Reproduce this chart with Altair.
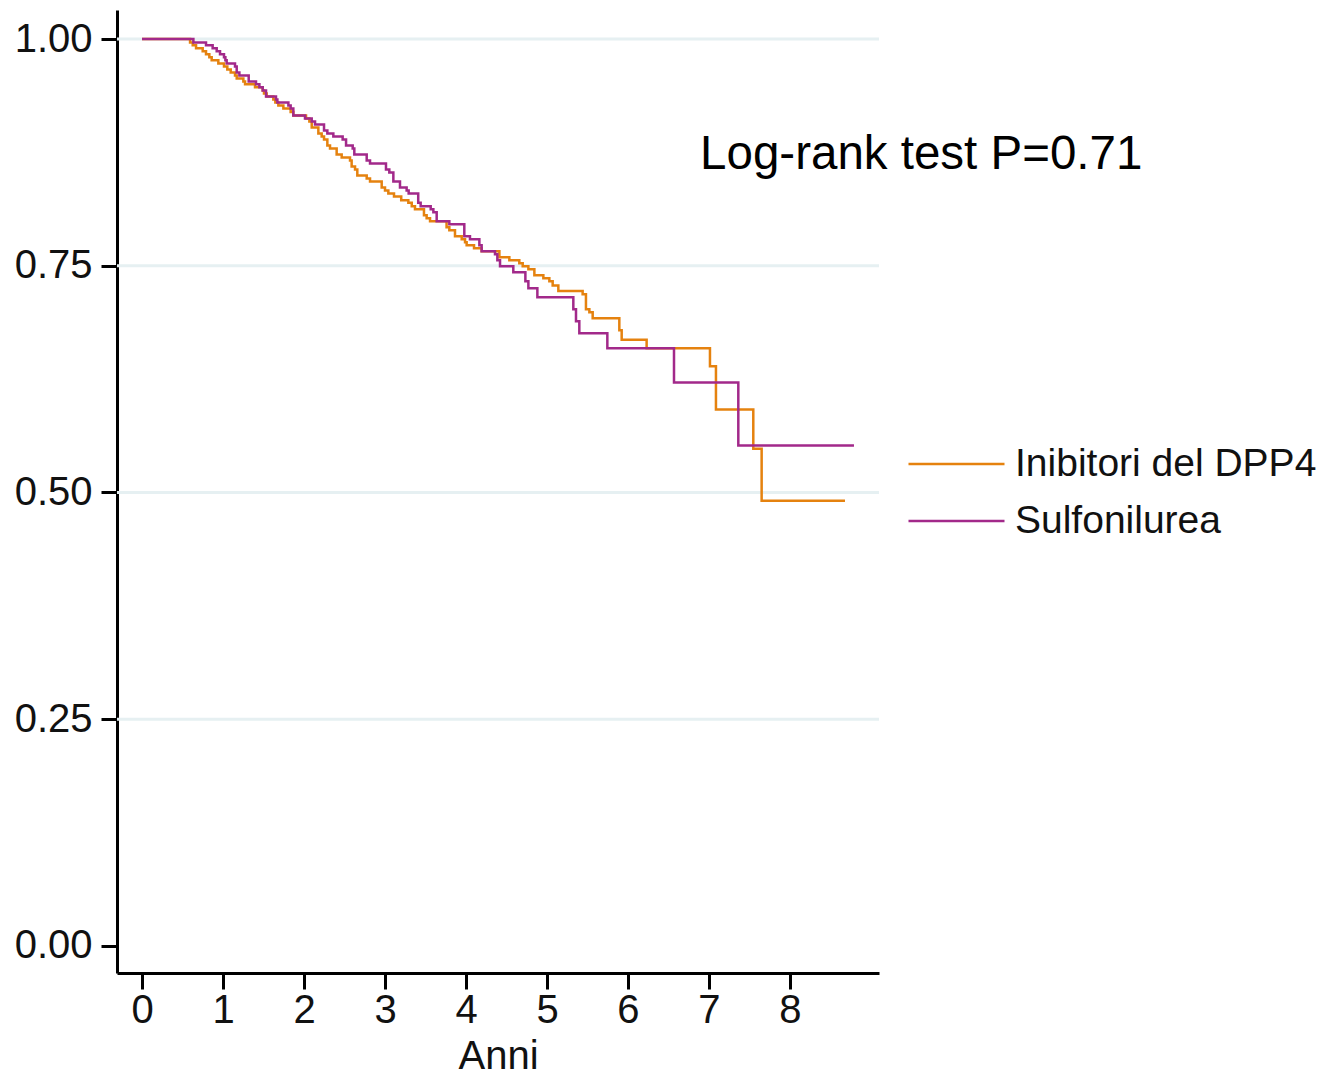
import altair as alt
import pandas as pd

# Kaplan-Meier step curves
dpp4_t = [0, 0.593, 0.626, 0.667, 0.749, 0.790, 0.831, 0.860, 0.942, 1.012,
          1.053, 1.095, 1.148, 1.169, 1.251, 1.272, 1.395, 1.490, 1.506, 1.539,
          1.621, 1.646, 1.683, 1.745, 1.835, 1.868, 2.025, 2.066, 2.095, 2.177,
          2.218, 2.247, 2.288, 2.321, 2.403, 2.465, 2.568, 2.588, 2.630, 2.658,
          2.774, 2.815, 2.959, 3.0, 3.041, 3.111, 3.20, 3.288, 3.33, 3.37,
          3.481, 3.514, 3.556, 3.76, 3.794, 3.864, 3.947, 3.988, 4.008, 4.099,
          4.193, 4.412, 4.535, 4.658, 4.70, 4.770, 4.844, 4.955, 5.029, 5.070,
          5.14, 5.44, 5.481, 5.523, 5.564, 5.893, 5.922, 6.23, 7.012, 7.086,
          7.547, 7.65, 8.679]
dpp4_s = [1.0, 0.9963, 0.9930, 0.9897, 0.9864, 0.9831, 0.9798, 0.9765, 0.9731, 0.9698,
          0.9665, 0.9632, 0.9599, 0.9566, 0.9533, 0.9500, 0.9467, 0.9433, 0.9400, 0.9367,
          0.9334, 0.9301, 0.9268, 0.9235, 0.9194, 0.9157, 0.9124, 0.9091, 0.9025, 0.8959,
          0.8926, 0.8893, 0.8826, 0.8793, 0.8727, 0.8694, 0.8661, 0.8595, 0.8561, 0.8495,
          0.8462, 0.8429, 0.8363, 0.8330, 0.8297, 0.8263, 0.8223, 0.8194, 0.8157, 0.8124,
          0.8057, 0.8024, 0.7991, 0.7925, 0.7892, 0.7826, 0.7792, 0.7759, 0.7726, 0.7693,
          0.7660, 0.7594, 0.7561, 0.7528, 0.7494, 0.7461, 0.7395, 0.7362, 0.7329, 0.7281,
          0.7222, 0.7185, 0.7020, 0.6987, 0.6921, 0.6788, 0.6685, 0.6590, 0.6391, 0.5916,
          0.5482, 0.4908, 0.4908]

sulf_t = [0, 0.634, 0.790, 0.872, 0.922, 0.963, 1.012, 1.029, 1.045, 1.148,
          1.169, 1.202, 1.317, 1.407, 1.449, 1.490, 1.531, 1.654, 1.671, 1.807,
          1.835, 1.868, 2.012, 2.095, 2.136, 2.247, 2.288, 2.362, 2.477, 2.519,
          2.601, 2.621, 2.774, 2.815, 3.012, 3.053, 3.103, 3.185, 3.267, 3.292,
          3.41, 3.44, 3.564, 3.597, 3.638, 3.794, 3.979, 4.049, 4.165, 4.193,
          4.358, 4.387, 4.420, 4.584, 4.733, 4.770, 4.881, 5.325, 5.358, 5.399,
          5.745, 6.568, 7.362, 8.79]
sulf_s = [1.0, 0.9963, 0.9930, 0.9897, 0.9864, 0.9831, 0.9798, 0.9765, 0.9731, 0.9698,
          0.9632, 0.9599, 0.9533, 0.9500, 0.9467, 0.9433, 0.9367, 0.9334, 0.9301, 0.9268,
          0.9235, 0.9157, 0.9124, 0.9091, 0.9058, 0.8992, 0.8959, 0.8926, 0.8893, 0.8826,
          0.8793, 0.8727, 0.8661, 0.8628, 0.8561, 0.8528, 0.8429, 0.8363, 0.8330, 0.8297,
          0.8194, 0.8157, 0.8124, 0.8090, 0.7991, 0.7958, 0.7826, 0.7792, 0.7726, 0.7660,
          0.7627, 0.7561, 0.7494, 0.7428, 0.7329, 0.7252, 0.7152, 0.7020, 0.6888, 0.6755,
          0.6590, 0.6214, 0.5519, 0.5519]

groups = ["Inibitori del DPP4", "Sulfonilurea"]
colors = ["#e5820f", "#a2298a"]
x_ticks = [0, 1, 2, 3, 4, 5, 6, 7, 8]
y_ticks = [0.0, 0.25, 0.5, 0.75, 1.0]
grid_vals = [0.25, 0.5, 0.75, 1.0]
annot_text = ["Log-rank test P=0.71"]
annot_x = [6.89]
annot_y = [0.872]

FONT = "Liberation Sans, Arial, sans-serif"

rows = []
for t, s in zip(dpp4_t, dpp4_s):
    rows.append({"anni": t, "surv": s, "gruppo": groups[0]})
for t, s in zip(sulf_t, sulf_s):
    rows.append({"anni": t, "surv": s, "gruppo": groups[1]})
df = pd.DataFrame(rows)

x_scale = alt.Scale(domain=[-0.309, 9.099], nice=False, zero=False)
y_scale = alt.Scale(domain=[-0.0298, 1.032], nice=False, zero=False)

x_axis = alt.Axis(values=x_ticks, title="Anni", format="d", grid=False,
                  domainColor="black", domainWidth=3, tickColor="black",
                  tickWidth=3, tickSize=16, labelFontSize=40, labelFont=FONT,
                  labelColor="#111111", labelPadding=1, titleFont=FONT,
                  titleFontSize=40, titleFontWeight="normal", titleColor="#111111",
                  titlePadding=6, labelFlush=False)
y_axis = alt.Axis(values=y_ticks, title=None, format=".2f", grid=False,
                  domainColor="black", domainWidth=3, tickColor="black",
                  tickWidth=3, tickSize=16, labelFontSize=40, labelFont=FONT,
                  labelColor="#111111", labelPadding=9, labelFlush=False)

grid = alt.Chart(pd.DataFrame({"g": grid_vals})).mark_rule(
    color="#e6f0f2", strokeWidth=3
).encode(y=alt.Y("g:Q", scale=y_scale, axis=y_axis))

lines = alt.Chart(df).mark_line(interpolate="step-after", strokeWidth=2.5).encode(
    x=alt.X("anni:Q", scale=x_scale, axis=x_axis),
    y=alt.Y("surv:Q", scale=y_scale, axis=y_axis),
    color=alt.Color("gruppo:N", scale=alt.Scale(domain=groups, range=colors),
                    legend=alt.Legend(title=None, orient="none", legendX=790, legendY=434,
                                      symbolType="stroke", symbolSize=9216,
                                      symbolStrokeWidth=2.5, labelFontSize=39,
                                      labelFont=FONT, labelColor="#111111",
                                      labelOffset=9, rowPadding=17, padding=0,
                                      clipHeight=40, labelLimit=500)),
)

annot = alt.Chart(pd.DataFrame({"x": annot_x, "y": annot_y, "t": annot_text})).mark_text(
    align="left", baseline="middle", fontSize=47.5, font=FONT, color="black"
).encode(x=alt.X("x:Q", scale=x_scale), y=alt.Y("y:Q", scale=y_scale), text="t:N")

chart = alt.layer(grid, lines, annot).properties(
    width=762, height=963,
    background="white",
    autosize=alt.AutoSizeParams(type="none"),
    padding={"left": 109, "top": 2, "right": 444, "bottom": 100},
).configure_view(strokeWidth=0, stroke=None)

chart.save("out.html", embed_options={"renderer": "svg", "actions": False})
